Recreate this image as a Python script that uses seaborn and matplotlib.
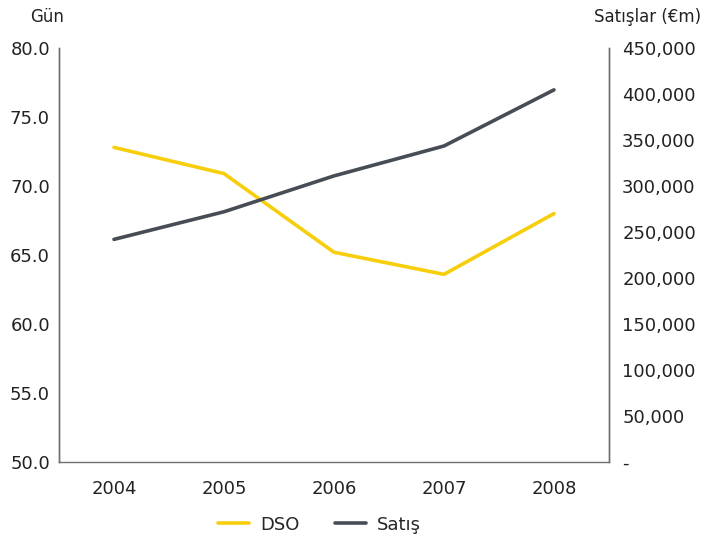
import matplotlib
matplotlib.use("Agg")
import matplotlib.pyplot as plt
import seaborn as sns
import pandas as pd
from matplotlib.ticker import FuncFormatter, MultipleLocator

years = ["2004", "2005", "2006", "2007", "2008"]
dso_days = [72.8, 70.9, 65.2, 63.6, 68.0]
sales_m = [242000, 272000, 311000, 343500, 404500]

yellow = "#F6CE0C"
grey = "#464D55"
text_col = "#222222"

sns.set_theme(style="white")
plt.rcParams["font.family"] = ["DejaVu Sans"]

df = pd.DataFrame({"year": years, "dso": dso_days, "sales": sales_m})

fig = plt.figure(figsize=(7.15, 5.42), dpi=100)
ax = fig.add_axes([0.0825, 0.1476, 0.7692, 0.7638])
ax2 = ax.twinx()

sns.lineplot(data=df, x="year", y="dso", ax=ax, color=yellow, lw=2.6,
             sort=False, label="DSO", legend=False)
sns.lineplot(data=df, x="year", y="sales", ax=ax2, color=grey, lw=2.6,
             sort=False, label="Satış", legend=False)

ax.set_xlim(-0.5, len(years) - 0.5)
ax.set_ylim(50, 80)
ax.yaxis.set_major_locator(MultipleLocator(5))
ax.yaxis.set_major_formatter(FuncFormatter(lambda v, p: f"{v:.1f}"))
ax2.set_ylim(0, 450000)
ax2.yaxis.set_major_locator(MultipleLocator(50000))
ax2.yaxis.set_major_formatter(FuncFormatter(lambda v, p: "-" if v == 0 else f"{v:,.0f}"))

for a in (ax, ax2):
    a.set_xlabel("")
    a.set_ylabel("")
    a.grid(False)
    for side in ("top", "bottom"):
        a.spines[side].set_visible(False)
    for side in ("left", "right"):
        a.spines[side].set_color("#6b6f73")
        a.spines[side].set_linewidth(1.0)
    a.tick_params(length=0, labelsize=13, colors=text_col)
ax.spines["bottom"].set_visible(True)
ax.spines["bottom"].set_color("#6b6f73")
ax.spines["bottom"].set_linewidth(1.0)
ax.tick_params(axis="x", pad=13)
ax.tick_params(axis="y", pad=6.5)
ax2.tick_params(axis="y", pad=9.5)

fig.text(0.066, 0.968, "Gün", ha="center", va="center", fontsize=12, color=text_col)
fig.text(0.98, 0.968, "Satışlar (€m)", ha="right", va="center", fontsize=12, color=text_col)

h1, l1 = ax.get_legend_handles_labels()
h2, l2 = ax2.get_legend_handles_labels()
fig.legend(h1 + h2, l1 + l2, loc="center", bbox_to_anchor=(0.447, 0.032), ncol=2,
           frameon=False, fontsize=13, handlelength=1.7, columnspacing=2.0,
           handletextpad=0.6)

fig.savefig("out.png", dpi=100)
